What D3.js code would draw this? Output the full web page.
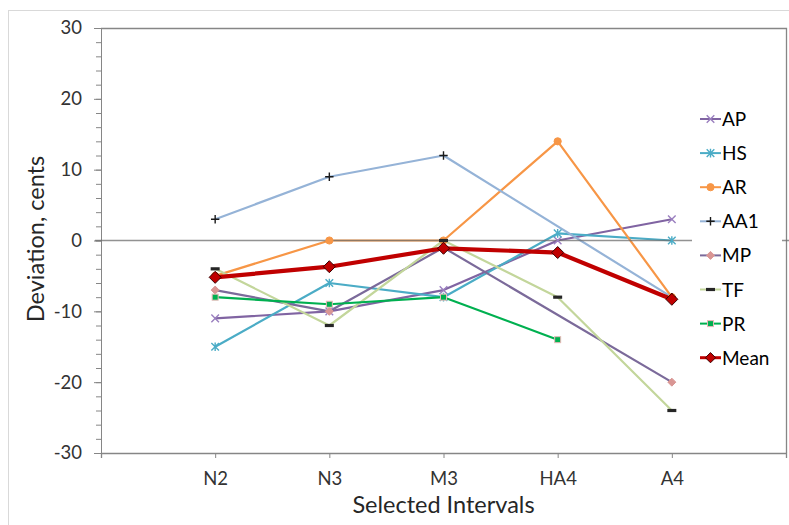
<!DOCTYPE html>
<html><head><meta charset="utf-8">
<script src="https://cdn.jsdelivr.net/npm/d3@7"></script>
<style>body{margin:0;background:#fff}svg{display:block}</style>
</head><body><svg id="c" width="789" height="525"></svg>
<script>
const categories = ["N2","N3","M3","HA4","A4"];
const AP   = [-11,-10,-7,0,3];
const HS   = [-15,-6,-8,1,0];
const AR   = [-5,0,0,14,-8];
const AA1  = [3,9,12,null,-8];
const MP   = [-7,-10,-1,null,-20];
const TF   = [-4,-12,0,-8,-24];
const PR   = [-8,-9,-8,-14,null];
const Mean = [-5.2,-3.7,-1.1,-1.7,-8.3];
const seriesNames = ["AP","HS","AR","AA1","MP","TF","PR","Mean"];
const yTicks = [-30,-20,-10,0,10,20,30];

const seriesData = [AP,HS,AR,AA1,MP,TF,PR,Mean];
const styles = {
  AP:{line:"#8064a2",w:2,m:"x",fill:"none",stroke:"#9a7fbf"},
  HS:{line:"#4bacc6",w:2,m:"ast",fill:"none",stroke:"#4bacc6"},
  AR:{line:"#f79646",w:2,m:"circle",fill:"#f79646",stroke:"#f79646"},
  AA1:{line:"#95b3d7",w:2,m:"plus",fill:"none",stroke:"#1a1a1a"},
  MP:{line:"#7b6a9a",w:2,m:"diamond",fill:"#d99694",stroke:"#d99694"},
  TF:{line:"#c3d69b",w:2,m:"dash",fill:"#262626",stroke:"none"},
  PR:{line:"#00b050",w:2,m:"square",fill:"#00b050",stroke:"#e6b9b8"},
  Mean:{line:"#c00000",w:4,m:"bigdiamond",fill:"#c00000",stroke:"#3a0000"}
};

const svg = d3.select("#c");
const L=101, R=786, T=28, B=453;
const x = d3.scalePoint().domain(categories).range([L,R]).padding(1);
const y = d3.scaleLinear().domain([-30,30]).range([B,T]);
const axisColor = "#868686";
const font = "Lato, 'Open Sans', sans-serif";

// outer chart border
svg.append("rect").attr("x",8.5).attr("y",10.5).attr("width",820).attr("height",600)
  .attr("fill","#fff").attr("stroke","#d9d9d9");

// y axis minor
const minor = d3.range(-30,31,2);
svg.append("g").attr("transform",`translate(${L},0)`)
  .call(d3.axisLeft(y).tickValues(minor).tickSize(5).tickSizeOuter(0).tickFormat(""))
  .call(g=>{g.select(".domain").remove();g.selectAll("line").attr("stroke",axisColor);});
// y axis major
svg.append("g").attr("transform",`translate(${L},0)`)
  .call(d3.axisLeft(y).tickValues(yTicks).tickSize(7).tickSizeOuter(0).tickPadding(12).tickFormat(d=>String(d)))
  .call(g=>{g.select(".domain").attr("stroke",axisColor);g.selectAll("line").attr("stroke",axisColor);
    g.selectAll("text").attr("font-family",font).attr("font-size",18.5).attr("fill","#333");});

// x axis
svg.append("g").attr("transform",`translate(0,${B})`)
  .call(d3.axisBottom(x).tickSize(5).tickSizeOuter(5))
  .call(g=>{g.select(".domain").attr("stroke",axisColor).attr("stroke-width",1.3);g.selectAll("line").attr("stroke",axisColor);
    g.selectAll("text").attr("y",32).attr("dy",0).attr("font-family",font).attr("font-size",18.5).attr("fill","#333");});

// plot border
svg.append("path").attr("d",`M${L},${T+0.5}H${R+0.5}V${B}`).attr("fill","none").attr("stroke",axisColor).attr("stroke-width",1.3);

function marker(g, type, st, cx, cy, scale){
  const s = scale||1;
  if(type==="x"){
    const r=3.8*s;
    g.append("path").attr("d",`M${cx-r},${cy-r}L${cx+r},${cy+r}M${cx-r},${cy+r}L${cx+r},${cy-r}`).attr("stroke",st.stroke).attr("stroke-width",1.4).attr("fill","none");
  } else if(type==="ast"){
    const r=3.8*s;
    g.append("path").attr("d",`M${cx-r},${cy-r}L${cx+r},${cy+r}M${cx-r},${cy+r}L${cx+r},${cy-r}M${cx},${cy-r-0.5}L${cx},${cy+r+0.5}`).attr("stroke",st.stroke).attr("stroke-width",1.4).attr("fill","none");
  } else if(type==="circle"){
    g.append("circle").attr("cx",cx).attr("cy",cy).attr("r",3.6*s).attr("fill",st.fill).attr("stroke",st.stroke);
  } else if(type==="plus"){
    const r=4.2*s;
    g.append("path").attr("d",`M${cx-r},${cy}L${cx+r},${cy}M${cx},${cy-r}L${cx},${cy+r}`).attr("stroke",st.stroke).attr("stroke-width",1.4).attr("fill","none");
  } else if(type==="diamond"){
    const r=4*s;
    g.append("path").attr("d",`M${cx},${cy-r}L${cx+r},${cy}L${cx},${cy+r}L${cx-r},${cy}Z`).attr("fill",st.fill).attr("stroke",st.stroke);
  } else if(type==="dash"){
    g.append("rect").attr("x",cx-4.5*s).attr("y",cy-1.6).attr("width",9*s).attr("height",3.2).attr("fill",st.fill);
  } else if(type==="square"){
    const r=3*s;
    g.append("rect").attr("x",cx-r).attr("y",cy-r).attr("width",2*r).attr("height",2*r).attr("fill",st.fill).attr("stroke",st.stroke).attr("stroke-width",1);
  } else if(type==="bigdiamond"){
    const r=6*s;
    g.append("path").attr("d",`M${cx},${cy-r}L${cx+r},${cy}L${cx},${cy+r}L${cx-r},${cy}Z`).attr("fill",st.fill).attr("stroke",st.stroke).attr("stroke-width",1);
  }
}

const lineGen = d3.line().x(d=>x(d.c)).y(d=>y(d.v));
const linesG = svg.append("g");
const zeroG = svg.append("g");
const marksG = svg.append("g");
seriesNames.forEach((name,i)=>{
  const st = styles[name];
  const pts = categories.map((c,j)=>({c, v:seriesData[i][j]})).filter(d=>d.v!==null);
  linesG.append("path").datum(pts).attr("d",lineGen).attr("fill","none").attr("stroke",st.line)
    .attr("stroke-width",st.w===4?4.2:2.2).attr("stroke-linejoin","round");
});
// zero line (drawn over series lines, under markers)
zeroG.append("line").attr("x1",95).attr("x2",789).attr("y1",y(0)).attr("y2",y(0))
  .attr("stroke","#6e6e6e").attr("stroke-opacity",0.75).attr("stroke-width",1.4);
seriesNames.forEach((name,i)=>{
  const st = styles[name];
  const g = marksG.append("g");
  categories.forEach((c,j)=>{ const v=seriesData[i][j]; if(v!==null) marker(g, st.m, st, x(c), y(v)); });
});

// legend
const lg = svg.append("g");
lg.append("rect").attr("x",692).attr("y",100).attr("width",90).attr("height",275).attr("fill","#fff");
seriesNames.forEach((name,i)=>{
  const st = styles[name];
  const cy = 119 + i*34.1;
  lg.append("line").attr("x1",700).attr("x2",721).attr("y1",cy).attr("y2",cy).attr("stroke",st.line).attr("stroke-width",st.w===4?3:2);
  marker(lg, st.m, st, 710.5, cy, name==="Mean"?0.85:1);
  lg.append("text").attr("x",722).attr("y",cy+7).attr("font-family",font).attr("font-size",19).attr("fill","#000").text(name);
});

// axis titles
svg.append("text").attr("x",(L+R)/2).attr("y",513).attr("text-anchor","middle")
  .attr("font-family",font).attr("font-size",23.5).attr("fill","#262626").text("Selected Intervals");
svg.append("text").attr("transform","translate(44,239) rotate(-90)").attr("text-anchor","middle")
  .attr("font-family",font).attr("font-size",23.5).attr("fill","#262626").text("Deviation, cents");
</script></body></html>
